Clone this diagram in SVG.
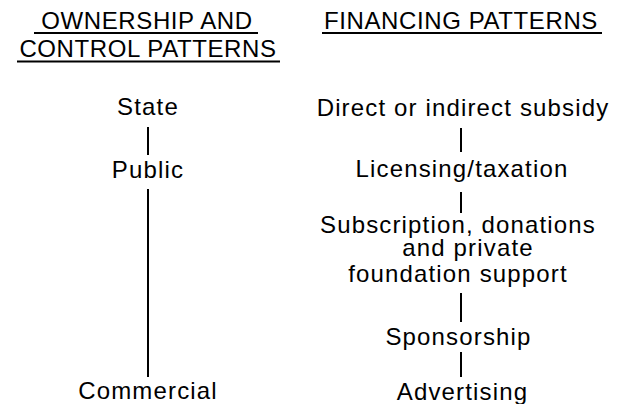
<svg xmlns="http://www.w3.org/2000/svg" width="624" height="404" viewBox="0 0 624 404">
  <style>
    text { font-family: "Liberation Sans", Arial, Helvetica, sans-serif; font-size: 24px; fill: #000; text-anchor: middle; letter-spacing: 1.15px; }
    .head { letter-spacing: 0.6px; }
    .rule { stroke: #000; stroke-width: 1.8; }
    .link { stroke: #000; stroke-width: 2; fill: none; }
  </style>
  <rect width="624" height="404" fill="#fff"/>

  <!-- column headings -->
  <g id="heading-ownership">
    <text class="head" x="147" y="29">OWNERSHIP AND</text>
    <text class="head" x="148" y="57">CONTROL PATTERNS</text>
    <line class="rule" x1="34" y1="33" x2="258" y2="33"/>
    <line class="rule" x1="17" y1="61.5" x2="280" y2="61.5"/>
  </g>
  <g id="heading-financing">
    <text class="head" x="461" y="29">FINANCING PATTERNS</text>
    <line class="rule" x1="322" y1="33" x2="602" y2="33"/>
  </g>

  <!-- ownership and control scale -->
  <g id="state"><text x="148" y="115">State</text></g>
  <g id="public"><text x="148" y="178">Public</text></g>
  <g id="commercial"><text x="148" y="399">Commercial</text></g>

  <!-- financing scale -->
  <g id="subsidy"><text x="463" y="116">Direct or indirect subsidy</text></g>
  <g id="licensing"><text x="462" y="177">Licensing/taxation</text></g>
  <g id="subscription">
    <text x="458" y="233">Subscription, donations</text>
    <text x="468" y="256">and private</text>
    <text x="458" y="282">foundation support</text>
  </g>
  <g id="sponsorship"><text x="458.5" y="345">Sponsorship</text></g>
  <g id="advertising"><text x="462.5" y="400">Advertising</text></g>

  <!-- connectors -->
  <g id="connectors">
    <line class="link" x1="148" y1="127" x2="148" y2="155"/>
    <line class="link" x1="148" y1="189" x2="148" y2="377"/>
    <line class="link" x1="461" y1="128" x2="461" y2="152"/>
    <line class="link" x1="461" y1="192" x2="461" y2="213"/>
    <line class="link" x1="461" y1="293" x2="461" y2="322"/>
    <line class="link" x1="461" y1="352" x2="461" y2="377"/>
  </g>
</svg>
